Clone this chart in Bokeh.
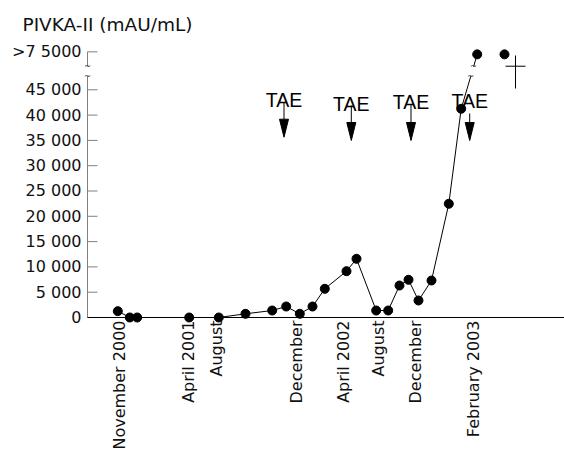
import math
from bokeh.plotting import figure
from bokeh.models import Range1d, FixedTicker
from bokeh.core.properties import value
from bokeh.embed import file_html
from bokeh.resources import INLINE

# ---------------- data ----------------
# sample positions along the (irregular) time axis and PIVKA-II values (mAU/mL)
x_pos = [3.03, 4.23, 4.97, 10.17, 13.13, 15.8, 18.47, 19.87, 21.23, 22.5, 23.73,
         25.9, 26.9, 28.87, 30.07, 31.2, 32.1, 33.1, 34.4, 36.13, 37.37]
pivka = [1250, 0, 0, 0, 0, 730, 1380, 2170, 730, 2170, 5670,
         9150, 11600, 1380, 1380, 6320, 7450, 3360, 7310, 22470, 41250]
# samples above 75 000 mAU/mL (drawn on the capped level above the axis break)
over_x = [38.97, 41.7]

tick_x = [3.16, 10.05, 12.9, 20.93, 25.55, 29.05, 32.8, 38.62]
tick_labels = ["November 2000", "April 2001", "August", "December",
               "April 2002", "August", "December", "February 2003"]

y_ticks = [0, 5000, 10000, 15000, 20000, 25000, 30000, 35000, 40000, 45000, 52500]
y_tick_labels = ["0", "5 000", "10 000", "15 000", "20 000", "25 000", "30 000",
                 "35 000", "40 000", "45 000", ">7 5000"]

tae_x = [19.65, 26.38, 32.35, 38.22]
tae_text_y = [42890, 42290, 42490, 42690]
tae_shaft_top = [42550, 41900, 42100, 40320]
tae_tip = [35630, 34980, 34980, 34980]

death_x = 42.8
death_y = 49660

# ---------------- scale / style constants ----------------
OVER_LEVEL = 52000
BREAK_LO, BREAK_HI = 47700, 49600
PX_PER_X = 10.0
PX_PER_Y = 5.06 / 1000.0
X_START, X_END = -0.6, 47.7
Y_START, Y_END = -26285, 55730
LABEL_GAP = 3 / PX_PER_Y

p = figure(width=564, height=450, output_backend="svg", toolbar_location=None,
           x_range=Range1d(X_START, X_END), y_range=Range1d(Y_START, Y_END),
           min_border_left=81, min_border_right=0, min_border_top=35,
           min_border_bottom=0, x_axis_location=None,
           title="PIVKA-II (mAU/mL)")
p.outline_line_color = None
p.xgrid.visible = False
p.ygrid.visible = False
p.background_fill_color = "white"
p.border_fill_color = "white"

# title used as the y-axis caption at top-left
p.title.align = "left"
p.title.offset = -59
p.title.standoff = 2
p.title.text_font = "DejaVu Sans"
p.title.text_font_size = "18.5px"
p.title.text_font_style = "normal"
p.title.text_color = "#111111"

# y axis (labels only, ticks drawn below)
ya = p.yaxis[0]
ya.ticker = FixedTicker(ticks=y_ticks)
ya.major_label_overrides = {t: l for t, l in zip(y_ticks, y_tick_labels)}
ya.axis_line_color = None
ya.major_tick_line_color = None
ya.minor_tick_line_color = None
ya.major_tick_out = 0
ya.major_tick_in = 0
ya.major_label_standoff = 0
ya.major_label_text_font = "DejaVu Sans"
ya.major_label_text_font_size = "16px"
ya.major_label_text_color = "#111111"

# x tick labels (vertical, reading upward, hanging below the baseline)
p.text(x=tick_x, y=[-LABEL_GAP] * len(tick_x), text=tick_labels, angle=math.pi / 2,
       text_align="right", text_baseline="middle",
       text_font=value("DejaVu Sans"), text_font_size="16px", text_color="#111111")

axis_gray = "#808080"
# y axis line with break
p.segment(x0=[0, 0], y0=[0, BREAK_HI], x1=[0, 0], y1=[BREAK_LO, y_ticks[-1]],
          line_color=axis_gray, line_width=1)
# y tick marks pointing inward
tick_len = 10 / PX_PER_X
p.segment(x0=[0] * len(y_ticks), y0=y_ticks, x1=[tick_len] * len(y_ticks), y1=y_ticks,
          line_color=axis_gray, line_width=1)
# x baseline
p.segment(x0=[0], y0=[0], x1=[X_END], y1=[0], line_color="black", line_width=1.2)

# data line
p.line(x_pos, pivka, line_color="black", line_width=1)
# broken segment up to the capped level
x_a, y_a = x_pos[-1], pivka[-1]
x_b, y_b = over_x[0], OVER_LEVEL
def interp(yv):
    return x_a + (yv - y_a) / (y_b - y_a) * (x_b - x_a)
xb_lo, xb_hi = interp(BREAK_LO), interp(BREAK_HI)
p.segment(x0=[x_a, xb_hi], y0=[y_a, BREAK_HI], x1=[xb_lo, x_b], y1=[BREAK_LO, y_b],
          line_color="black", line_width=1)

# break marks
p.text(x=[0, 0, xb_lo, xb_hi], y=[BREAK_LO, BREAK_HI, BREAK_LO, BREAK_HI],
       text=["~"] * 4, text_align="center", text_baseline="middle",
       text_font=value("DejaVu Sans"), text_font_size="8px", text_color="#333333")

# markers
p.scatter(x_pos, pivka, size=9, marker="circle", fill_color="black", line_color="black")
p.scatter(over_x, [OVER_LEVEL] * len(over_x), size=9, marker="circle",
          fill_color="black", line_color="black")

# TAE annotations
p.text(x=tae_x, y=tae_text_y, text=["TAE"] * len(tae_x), text_align="center",
       text_baseline="alphabetic", text_font=value("Liberation Sans"),
       text_font_size="19.5px", text_color="black")
head_len = 18 / PX_PER_Y
head_hw = 4.5 / PX_PER_X
p.segment(x0=tae_x, y0=tae_shaft_top, x1=tae_x, y1=[t + head_len for t in tae_tip],
          line_color="black", line_width=1)
p.patches(xs=[[x - head_hw, x + head_hw, x] for x in tae_x],
          ys=[[t + head_len, t + head_len, t] for t in tae_tip],
          fill_color="black", line_color="black", line_width=1)

# death mark (dagger)
p.segment(x0=[death_x, death_x - 10 / PX_PER_X],
          y0=[death_y + 10.7 / PX_PER_Y, death_y],
          x1=[death_x, death_x + 10 / PX_PER_X],
          y1=[death_y - 22.3 / PX_PER_Y, death_y],
          line_color="black", line_width=1)

open("out.html", "w").write(file_html(p, INLINE))
